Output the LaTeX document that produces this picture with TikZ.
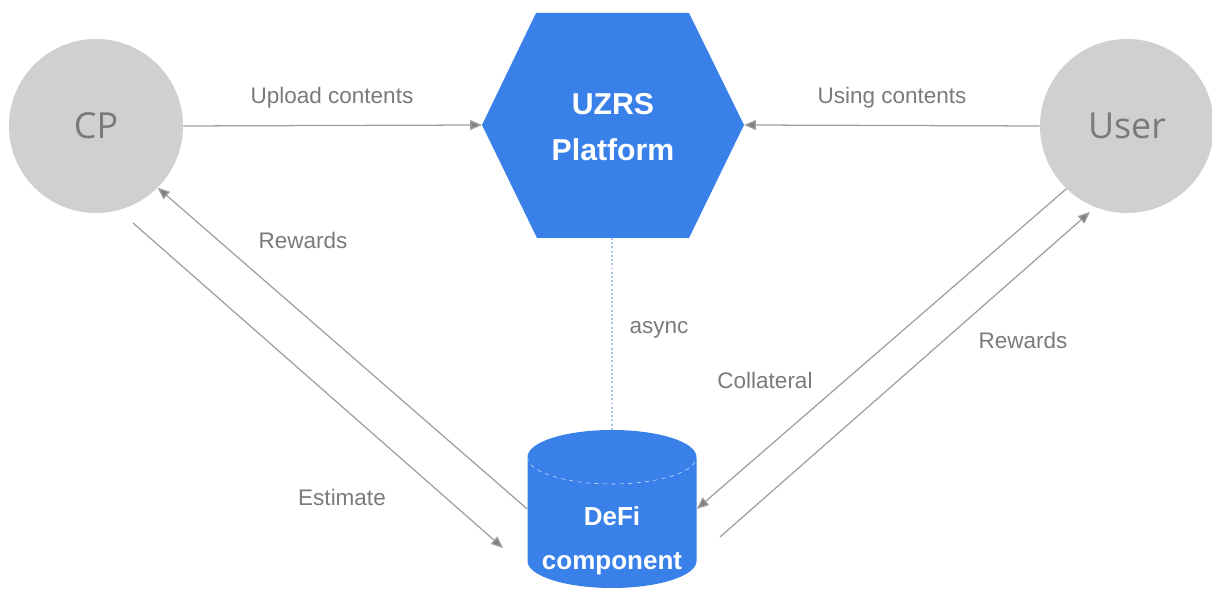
\documentclass[tikz,border=0pt]{standalone}
\usepackage{fontspec}
\setmainfont{Liberation Sans}
\newfontfamily\circfont{Open Sans}
\usetikzlibrary{arrows.meta}
\definecolor{uzblue}{HTML}{3A80E9}
\definecolor{cpgray}{HTML}{D0CFD1}
\definecolor{txtgray}{HTML}{7A7A7A}
\definecolor{arrgray}{HTML}{A0A0A0}
\definecolor{dotblue}{HTML}{A8C3F0}
\tikzset{l/.style={font=\fontsize{16}{16}\selectfont, text=txtgray}}
\tikzset{party/.style={circle, fill=cpgray, minimum size=4.35cm, inner sep=0pt, text=txtgray, font=\circfont\fontsize{25.5}{25.5}\selectfont}}
\tikzset{flow/.style={draw=arrgray, line width=0.9pt, -{Triangle[length=8.5pt,width=7pt,fill=gray]}}}
\tikzset{blk/.style={text=white, font=\bfseries\fontsize{21.5}{33}\selectfont, align=center}}

\begin{document}
\begin{tikzpicture}[x=0.025cm, y=0.025cm]
    \useasboundingbox (0,0) rectangle (1212,589);
    % platform hexagon
    \fill[uzblue] (482,464) -- (536,576) -- (689,576) -- (744,464) -- (689,351) -- (537,351) -- cycle;
    \coordinate (hexW) at (482,464);
    \coordinate (hexE) at (744,464);
    \coordinate (hexS) at (612,351);
    \node[blk] (uzrs) at (613,462) {UZRS\\Platform};
    % defi cylinder
    \fill[uzblue] (527.5,132) -- (527.5,28) arc[start angle=180, end angle=360, x radius=84.5, y radius=27]
      -- (696.5,132) arc[start angle=0, end angle=180, x radius=84.5, y radius=27] -- cycle;
    \draw[white!75!uzblue, line width=0.4pt, dashed] (527.5,132) arc[start angle=180, end angle=360, x radius=84.5, y radius=27];
    \node[minimum width=4.225cm, minimum height=3.95cm, inner sep=0pt] (defi) at (612,80) {};
    \node[blk, font=\bfseries\fontsize{18.5}{31}\selectfont] (defitext) at (612,48) {DeFi\\component};
    % parties
    \node[party] (cp) at (96,463) {CP};
    \node[party] (user) at (1127,463) {User};
    \coordinate (estS) at (133,366);
    \coordinate (estE) at (503,41);
    \coordinate (rwS) at (720,52);
    \coordinate (rwE) at (1090,377);
    % flows
    \draw[flow] (cp.east) -- (hexW);
    \draw[flow] (user.west) -- (hexE);
    \draw[flow] (defi.west) -- (cp.-45);
    \draw[flow] (estS) -- (estE);
    \draw[flow] (user.-134) -- (defi.east);
    \draw[flow] (rwS) -- (rwE);
    \draw[dotblue, line width=1.1pt, dash pattern=on 1.4pt off 1.6pt] (hexS) -- (defi.north);
    % labels
    \node[l] (upl) at (332,491) {Upload contents};
    \node[l] (usg) at (892,491) {Using contents};
    \node[l] (rwl) at (303,349) {Rewards};
    \node[l] (est) at (342,92) {Estimate};
    \node[l] (col) at (765,209) {Collateral};
    \node[l] (rwr) at (1023,249) {Rewards};
    \node[l] (asy) at (659,259) {async};
\end{tikzpicture}
\end{document}
